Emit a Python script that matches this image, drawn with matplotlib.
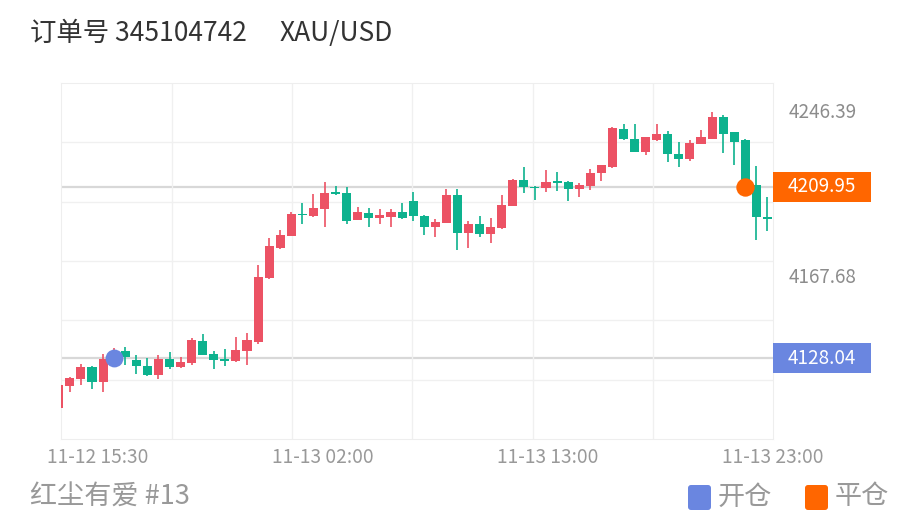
import matplotlib
matplotlib.use("Agg")
import matplotlib.pyplot as plt
from matplotlib.patches import Rectangle, FancyBboxPatch
from matplotlib.transforms import blended_transform_factory, IdentityTransform

plt.rcParams['font.family'] = ['Noto Sans CJK SC', 'DejaVu Sans']

# 30-min candles, XAU/USD
opens = [4104.3, 4114.8, 4118.2, 4124.0, 4116.6, 4127.2, 4131.5, 4127.2, 4124.5, 4120.1,
         4127.6, 4123.9, 4125.7, 4136.4, 4130.3, 4127.6, 4126.8, 4131.5, 4136.0, 4166.2,
         4180.7, 4186.6, 4196.8, 4195.9, 4199.3, 4207.4, 4207.1, 4193.9, 4197.5, 4195.0,
         4195.6, 4198.0, 4203.3, 4196.1, 4190.9, 4192.5, 4206.0, 4187.7, 4192.3, 4187.4,
         4190.0, 4200.7, 4213.0, 4209.8, 4209.1, 4212.7, 4212.2, 4208.6, 4210.1, 4216.5,
         4219.5, 4237.4, 4232.6, 4226.7, 4232.4, 4235.1, 4225.6, 4222.9, 4230.2, 4232.8,
         4243.0, 4235.8, 4232.2, 4210.8, 4195.3]
highs = [4115.8, 4119.1, 4125.3, 4124.4, 4130.1, 4133.0, 4133.6, 4129.6, 4128.0, 4129.4,
         4131.2, 4128.8, 4137.6, 4139.5, 4131.3, 4132.5, 4138.0, 4140.1, 4172.7, 4185.5,
         4189.3, 4198.0, 4202.2, 4206.5, 4212.0, 4210.3, 4209.7, 4200.4, 4199.6, 4199.5,
         4199.3, 4202.0, 4207.4, 4196.4, 4194.3, 4208.8, 4208.9, 4193.7, 4195.8, 4194.9,
         4205.8, 4213.5, 4219.5, 4210.1, 4217.8, 4217.1, 4212.4, 4211.9, 4218.3, 4220.5,
         4238.2, 4239.7, 4239.6, 4233.8, 4240.0, 4236.3, 4231.4, 4232.2, 4237.2, 4245.4,
         4243.9, 4236.1, 4232.5, 4220.0, 4204.8]
lows = [4103.8, 4112.0, 4115.3, 4113.3, 4112.1, 4126.3, 4124.9, 4120.4, 4119.8, 4117.9,
        4122.8, 4123.4, 4124.9, 4129.4, 4122.7, 4124.2, 4126.3, 4125.0, 4134.7, 4166.0,
        4180.1, 4186.4, 4192.1, 4195.3, 4190.7, 4206.0, 4192.1, 4193.8, 4190.6, 4191.9,
        4190.9, 4194.4, 4193.6, 4186.9, 4185.8, 4192.4, 4179.7, 4180.6, 4185.8, 4183.2,
        4189.8, 4200.5, 4206.8, 4203.6, 4207.4, 4207.9, 4203.1, 4205.2, 4208.4, 4212.7,
        4218.9, 4232.2, 4226.5, 4225.1, 4231.8, 4221.5, 4219.2, 4222.2, 4230.1, 4232.6,
        4225.9, 4220.3, 4208.4, 4184.4, 4188.9]
closes = [4115.3, 4118.8, 4124.0, 4116.6, 4127.6, 4130.6, 4128.4, 4124.4, 4120.1, 4127.6,
          4123.8, 4126.3, 4136.8, 4129.6, 4127.2, 4126.8, 4132.0, 4136.8, 4166.7, 4181.5,
          4187.0, 4196.8, 4196.4, 4199.6, 4207.1, 4206.5, 4193.7, 4197.6, 4195.2, 4196.4,
          4197.9, 4194.9, 4196.1, 4190.9, 4193.0, 4206.0, 4187.7, 4192.3, 4187.1, 4190.6,
          4201.0, 4213.2, 4209.6, 4209.1, 4212.3, 4211.7, 4209.0, 4210.7, 4216.6, 4220.3,
          4237.8, 4232.5, 4226.7, 4233.5, 4235.0, 4225.3, 4222.9, 4230.7, 4233.5, 4243.0,
          4235.1, 4231.4, 4210.0, 4195.3, 4194.7]

open_idx, open_price = 5, 4128.04
close_idx, close_price = 62, 4209.95
axis_prices = [4246.39, 4167.68]
x_labels = ["11-12 15:30", "11-13 02:00", "11-13 13:00", "11-13 23:00"]
title = "订单号 345104742"
symbol = "XAU/USD"
footer = "红尘有爱 #13"
legend_labels = ["开仓", "平仓"]

UP = '#ec5264'
DOWN = '#0db28e'
OPEN_C = '#6a86e0'
CLOSE_C = '#ff6600'

fig = plt.figure(figsize=(9.24, 5.28), dpi=100)
ax = fig.add_axes([61 / 924, 89 / 528, 712 / 924, 356 / 528])

for i, (o, h, l, c) in enumerate(zip(opens, highs, lows, closes)):
    col = UP if c >= o else DOWN
    ax.vlines(i, l, h, color=col, lw=1.2, zorder=3)
    ax.bar(i, max(abs(c - o), 0.6), bottom=min(o, c), width=0.82, color=col, zorder=3)

ax.set_xlim(0.2, 64.5)
ax.set_ylim(4089.5, 4259.4)
xlo, xhi = ax.get_xlim()
ylo, yhi = ax.get_ylim()

# grid: vertical lines step back from the right edge, horizontal in 6 rows
gstep = (xhi - xlo) * 120.2 / 712
ax.set_xticks([xhi - k * gstep for k in range(1, 6)], minor=True)
ax.set_yticks([ylo + k * (yhi - ylo) / 6 for k in range(1, 6)], minor=True)
ax.grid(which='minor', color='#f0f0f0', lw=1, zorder=0)
ax.grid(which='major', visible=False)
ax.tick_params(which='minor', length=0)
for s in ax.spines.values():
    s.set_color('#eeeeee')

ax.axhline(open_price, color='#d8d8d8', lw=1.6, zorder=1)
ax.axhline(close_price, color='#d8d8d8', lw=1.6, zorder=1)
ax.scatter([open_idx], [open_price], s=165, color=OPEN_C, zorder=5, lw=0)
ax.scatter([close_idx], [close_price], s=175, color=CLOSE_C, zorder=5, lw=0)

# right axis labels
ax.yaxis.tick_right()
ax.set_yticks(axis_prices, [f"{v:.2f}" for v in axis_prices])
ax.tick_params(axis='y', which='major', length=0, pad=11, labelsize=13.6, labelcolor='#8c8c8c')

step = (xhi - xlo) * 0.316
ax.set_xticks([xhi - (len(x_labels) - 1 - k) * step for k in range(len(x_labels))], x_labels)
ax.tick_params(axis='x', which='major', length=0, pad=6, labelsize=13.8, labelcolor='#999999')

# price tags
trans = blended_transform_factory(ax.transAxes, ax.transData)
box_w = 98 / 712
box_h = (yhi - ylo) * 30 / 356
for price, col in [(close_price, CLOSE_C), (open_price, OPEN_C)]:
    ax.add_patch(Rectangle((1.0, price - box_h / 2), box_w, box_h, transform=trans,
                           fc=col, ec='none', clip_on=False, zorder=6))
    ax.text(1.0 + box_w / 2, price, f"{price:.2f}", transform=trans, ha='center', va='center',
            color='white', fontsize=13.6, zorder=7, clip_on=False)

fig.text(30 / 924, 1 - 33 / 528, title, fontsize=19, color='#333333', va='center')
fig.text(280 / 924, 1 - 33 / 528, symbol, fontsize=19, color='#333333', va='center')
fig.text(30 / 924, 1 - 497 / 528, footer, fontsize=19.5, color='#999999', va='center')

# legend
for x0, col, lab in [(688, OPEN_C, legend_labels[0]), (805, CLOSE_C, legend_labels[1])]:
    fig.add_artist(FancyBboxPatch((x0, 528 - 510), 23, 25, boxstyle='round,pad=0,rounding_size=3',
                                  transform=IdentityTransform(), fc=col, ec='none'))
    fig.text((x0 + 30) / 924, 1 - 497 / 528, lab, fontsize=19.5, color='#999999', va='center')

fig.savefig("out.png", dpi=100)
